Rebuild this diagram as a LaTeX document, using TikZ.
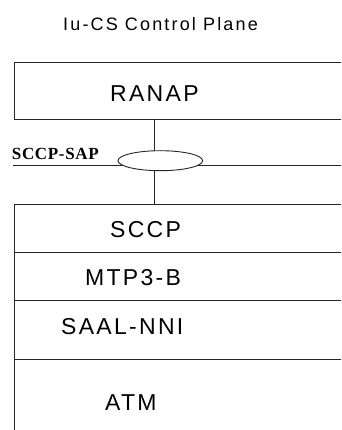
\documentclass[tikz,border=0pt]{standalone}
\usepackage{fontspec}
\setmainfont{Liberation Sans}
\newfontfamily\labelfont[LetterSpace=10]{Liberation Sans}
\newfontfamily\titlefont[LetterSpace=12]{Liberation Sans}
\newfontfamily\sapfont[LetterSpace=4]{Liberation Serif}
\usetikzlibrary{shapes.geometric}
\tikzset{
  stackline/.style={draw=black!85, line width=0.9pt},
  layertext/.style={anchor=base west, inner sep=0pt, font=\labelfont\fontsize{23}{26}\selectfont},
}
\begin{document}
\begin{tikzpicture}[x=1pt,y=-1pt]
\useasboundingbox (0,0) rectangle (341,430);
\clip (0,0) rectangle (341,430);
% title
\node[anchor=base west, inner sep=0pt, font=\titlefont\fontsize{18}{21}\selectfont] (title) at (63,30.5) {Iu-CS Control Plane};
% RANAP box
\node[draw=black!85, line width=0.9pt, rectangle, anchor=north west, minimum width=346pt, minimum height=57pt, inner sep=0pt] (ranapbox) at (14,62) {};
\node[layertext] (ranap) at (110,101.7) {RANAP};
% lower stack box
\node[draw=black!85, line width=0.9pt, rectangle, anchor=north west, minimum width=346pt, minimum height=240pt, inner sep=0pt] (stackbox) at (14,204) {};
\coordinate (l1) at (14,252.5);
\coordinate (l2) at (14,300.5);
\coordinate (l3) at (14,359.5);
\draw[stackline] (l1) -- ++(346,0);
\draw[stackline] (l2) -- ++(346,0);
\draw[stackline] (l3) -- ++(346,0);
\node[layertext] (sccp) at (110,237.3) {SCCP};
\node[layertext] (mtp) at (85,285.5) {MTP3-B};
\node[layertext] (saal) at (61,334) {SAAL-NNI};
\node[layertext] (atm) at (105,410) {ATM};
% SAP
\coordinate (vtop) at (154,119);
\coordinate (vbot) at (154,204);
\draw[stackline] (vtop) -- (vbot);
\coordinate (hl) at (13.3,165.3);
\coordinate (hr) at (345,165.3);
\draw[stackline] (hl) -- (hr);
\node[draw=black!85, line width=0.9pt, fill=white, ellipse, minimum width=84.7pt, minimum height=20pt, inner sep=0pt] (sap) at (160.3,160.7) {};
\node[anchor=base west, inner sep=0pt, font=\sapfont\bfseries\fontsize{17}{19}\selectfont] (saplabel) at (11.7,160) {SCCP-SAP};
\end{tikzpicture}
\end{document}
